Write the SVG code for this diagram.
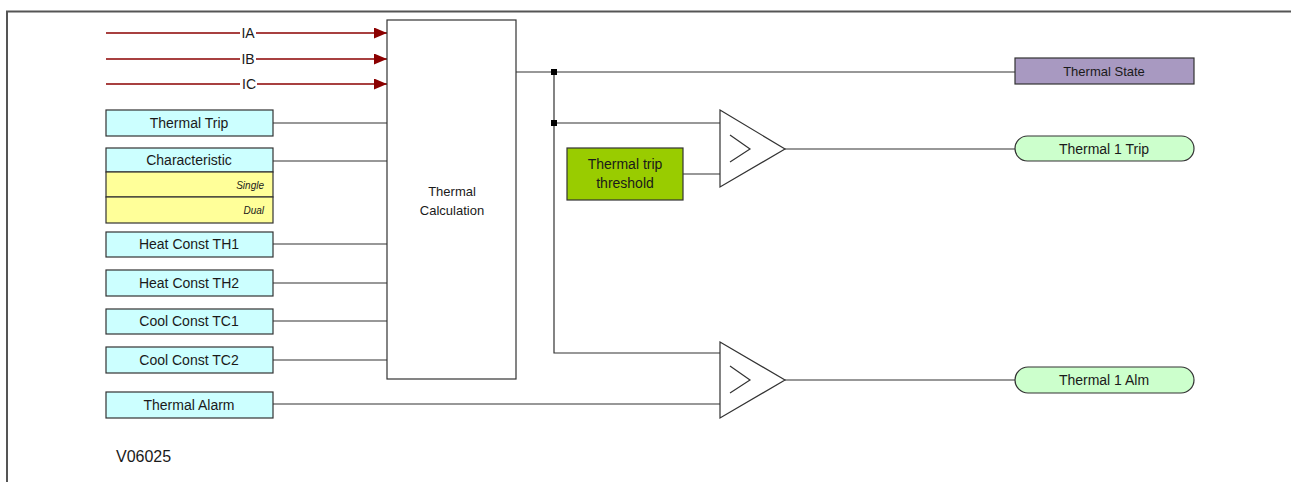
<svg xmlns="http://www.w3.org/2000/svg" width="1291" height="482" viewBox="0 0 1291 482">
<defs>
<style>
.t{font-family:"Liberation Sans",Arial,sans-serif;font-size:14px;fill:#1a1a1a;text-anchor:middle}
.s{font-family:"Liberation Sans",Arial,sans-serif;font-size:10px;font-style:italic;fill:#1a1a1a;text-anchor:end}
.in{fill:#ccffff;stroke:#333;stroke-width:1.2}
.yl{fill:#ffff99;stroke:#333;stroke-width:1.2}
.w{fill:none;stroke:#333;stroke-width:1.2}
.r{fill:none;stroke:#8b0000;stroke-width:1.6}
.g{fill:#fff;stroke:#333;stroke-width:1.2}
</style>
<marker id="ah" markerWidth="13" markerHeight="11" refX="13" refY="5.5" orient="auto" markerUnits="userSpaceOnUse">
<path d="M0,0 L13,5.5 L0,11 Z" fill="#8b0000"/>
</marker>
</defs>
<rect width="1291" height="482" fill="#fff"/>
<path d="M7,482 V11.5 H1291" fill="none" stroke="#555" stroke-width="2"/>

<g id="connectors">
<path class="r" d="M106,33 H240"/><path class="r" d="M256,33 H387" marker-end="url(#ah)"/>
<path class="r" d="M106,59 H240"/><path class="r" d="M256,59 H387" marker-end="url(#ah)"/>
<path class="r" d="M106,84 H240"/><path class="r" d="M257,84 H387" marker-end="url(#ah)"/>
<path class="w" d="M273,123 H387"/>
<path class="w" d="M273,161 H387"/>
<path class="w" d="M273,244 H387"/>
<path class="w" d="M273,283 H387"/>
<path class="w" d="M273,321 H387"/>
<path class="w" d="M273,360 H387"/>
<path class="w" d="M273,404 H720"/>
<path class="w" d="M516,72 H1015"/>
<path class="w" d="M554,72 V353 H720"/>
<path class="w" d="M554,123 H720"/>
<path class="w" d="M683,174 H720"/>
<path class="w" d="M785,149 H1015"/>
<path class="w" d="M785,380 H1015"/>
<rect x="551" y="69" width="6" height="6" fill="#000"/>
<rect x="551" y="120" width="6" height="6" fill="#000"/>
</g>

<g id="label-IA"><text class="t" x="248" y="38">IA</text></g>
<g id="label-IB"><text class="t" x="248" y="64">IB</text></g>
<g id="label-IC"><text class="t" x="249" y="89">IC</text></g>

<g id="calc">
<rect class="g" x="387" y="20" width="129" height="359"/>
<text class="t" x="452" y="196" style="font-size:13px">Thermal</text>
<text class="t" x="452" y="215" style="font-size:13px">Calculation</text>
</g>

<g id="thermal-trip"><rect class="in" x="106" y="110" width="167" height="26"/><text class="t" x="189" y="128">Thermal Trip</text></g>
<g id="characteristic">
<rect class="in" x="106" y="148" width="167" height="24"/><text class="t" x="189" y="165">Characteristic</text>
<rect class="yl" x="106" y="172" width="167" height="25"/><text class="s" x="264" y="189">Single</text>
<rect class="yl" x="106" y="197" width="167" height="26"/><text class="s" x="264" y="214">Dual</text>
</g>
<g id="th1"><rect class="in" x="106" y="232" width="167" height="25"/><text class="t" x="189" y="249">Heat Const TH1</text></g>
<g id="th2"><rect class="in" x="106" y="270" width="167" height="26"/><text class="t" x="189" y="288">Heat Const TH2</text></g>
<g id="tc1"><rect class="in" x="106" y="309" width="167" height="25"/><text class="t" x="189" y="326">Cool Const TC1</text></g>
<g id="tc2"><rect class="in" x="106" y="347" width="167" height="26"/><text class="t" x="189" y="365">Cool Const TC2</text></g>
<g id="alarm"><rect class="in" x="106" y="392" width="167" height="26"/><text class="t" x="189" y="410">Thermal Alarm</text></g>

<g id="threshold">
<rect x="567" y="148" width="116" height="52" fill="#99cc00" stroke="#333" stroke-width="1.2"/>
<text class="t" x="625" y="169">Thermal trip</text>
<text class="t" x="625" y="188">threshold</text>
</g>

<g id="comp1">
<path class="g" d="M720,110 L785,149 L720,187 Z"/>
<path class="w" d="M730,135 L750,149 L730,162"/>
</g>
<g id="comp2">
<path class="g" d="M720,342 L785,380 L720,418 Z"/>
<path class="w" d="M730,366 L750,380 L730,393"/>
</g>

<g id="thermal-state"><rect x="1015" y="58" width="179" height="26" fill="#a899c1" stroke="#333" stroke-width="1.2"/><text class="t" x="1104" y="76" style="font-size:13px">Thermal State</text></g>
<g id="trip-out"><rect x="1015" y="136" width="179" height="25" rx="12.5" fill="#ccffcc" stroke="#333" stroke-width="1.2"/><text class="t" x="1104" y="154">Thermal 1 Trip</text></g>
<g id="alm-out"><rect x="1015" y="367" width="179" height="26" rx="13" fill="#ccffcc" stroke="#333" stroke-width="1.2"/><text class="t" x="1104" y="385">Thermal 1 Alm</text></g>

<text x="116" y="462" style="font-family:'Liberation Sans',Arial,sans-serif;font-size:16px;fill:#1a1a1a">V06025</text>
</svg>
